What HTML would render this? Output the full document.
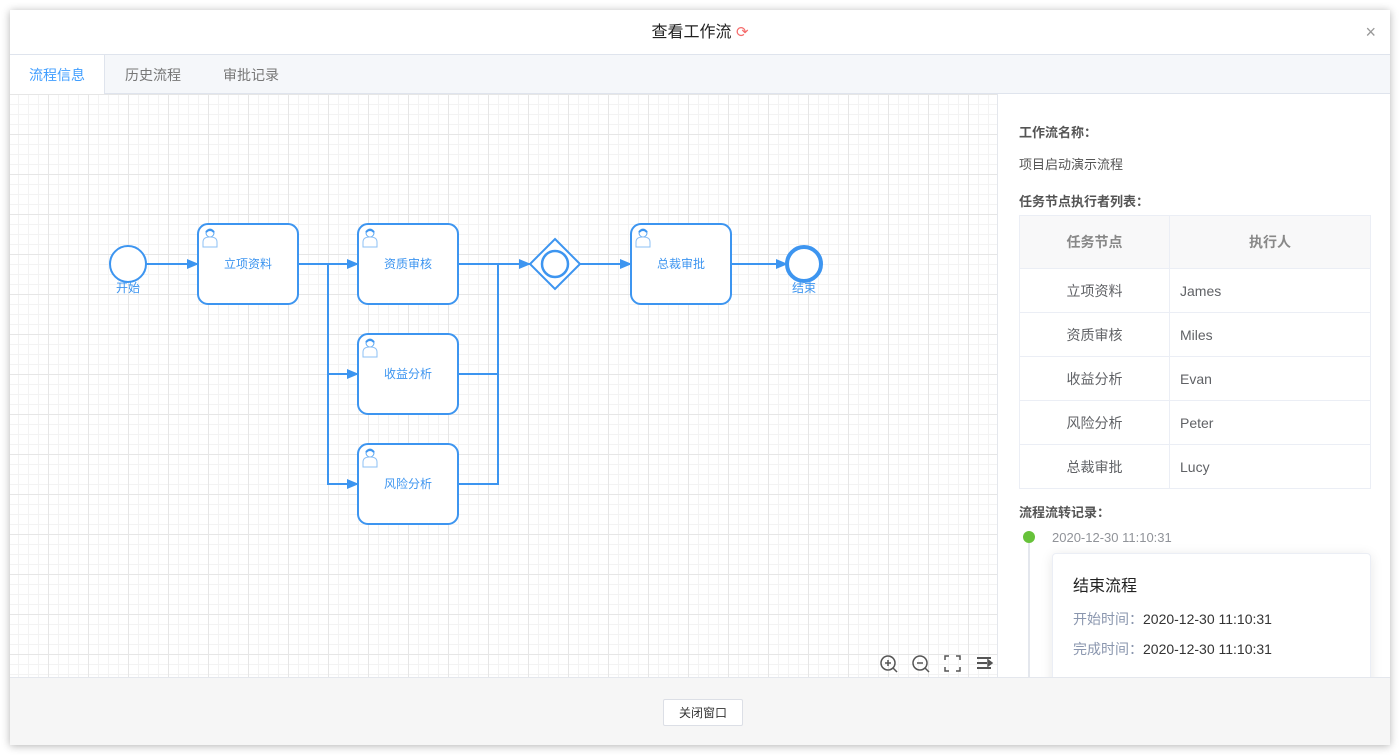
<!DOCTYPE html>
<html><head><meta charset="utf-8"><style>
*{margin:0;padding:0;box-sizing:border-box}
body{width:1400px;height:755px;background:#fff;font-family:"Liberation Sans","Noto Sans CJK SC",sans-serif;position:relative;overflow:hidden}
.modal{position:absolute;left:10px;top:10px;width:1380px;height:735px;background:#fff;box-shadow:0 1px 8px rgba(0,0,0,.3)}
.abs{position:absolute}
.title{left:0;top:0;width:1380px;height:44px;line-height:46px;text-align:center;font-size:16px;color:#222}
.tabs{left:0;top:44px;width:1380px;height:40px;background:#f5f7fa;border-top:1px solid #dfe4ed;border-bottom:1px solid #dfe4ed}
.tab{position:absolute;top:0;height:39px;line-height:40px;font-size:14px;color:#777}
.grid{left:0;top:84px;width:987px;height:583px;
background-color:#fff;
background-image:linear-gradient(#e6e6e6 1px,transparent 1px),linear-gradient(90deg,#e6e6e6 1px,transparent 1px),linear-gradient(#f3f3f3 1px,transparent 1px),linear-gradient(90deg,#f3f3f3 1px,transparent 1px);
background-size:40px 40px,40px 40px,10px 10px,10px 10px;
background-position:0 40px,38px 0,0 0,8px 0}
.side{left:987px;top:84px;width:393px;height:583px;border-left:1px solid #e4e7ed;background:#fff;overflow:hidden}
.h{font-size:13px;font-weight:bold;color:#555}
table{border-collapse:collapse;position:absolute;left:21px;top:121px;width:352px;font-size:14px;color:#606266}
td,th{border:1px solid #ebeef5;height:44px}
th{height:53px;background:#f8f8f9;color:#888;font-weight:bold;font-size:14px}
td:first-child{text-align:center;width:150px}
td:last-child{padding-left:10px}
.footer{left:0;top:667px;width:1380px;height:68px;background:#f6f6f6;border-top:1px solid #e4e7ed}
.btn{left:653px;top:21px;width:80px;height:27px;border:1px solid #dcdfe6;background:#fff;font-size:12px;color:#333;text-align:center;line-height:26px;border-radius:2px}
</style></head><body>
<div class="modal">
<div class="abs title">查看工作流 <span style="color:#f56c6c;font-size:15px">⟳</span></div>
<div class="abs" style="right:14px;top:12px;font-size:18px;color:#999">×</div>
<div class="abs tabs">
<div class="tab" style="left:0;width:95px;background:#fff;border-right:1px solid #dfe4ed;color:#409eff;text-align:center;height:40px">流程信息</div>
<div class="tab" style="left:115px">历史流程</div>
<div class="tab" style="left:213px">审批记录</div>
</div>
<div class="abs grid"></div>
<div class="abs side">
<div class="abs h" style="left:21px;top:28px">工作流名称：</div>
<div class="abs" style="left:21px;top:60px;font-size:13px;color:#555">项目启动演示流程</div>
<div class="abs h" style="left:21px;top:97px">任务节点执行者列表：</div>
<table>
<tr><th>任务节点</th><th>执行人</th></tr>
<tr><td>立项资料</td><td>James</td></tr>
<tr><td>资质审核</td><td>Miles</td></tr>
<tr><td>收益分析</td><td>Evan</td></tr>
<tr><td>风险分析</td><td>Peter</td></tr>
<tr><td>总裁审批</td><td>Lucy</td></tr>
</table>
<div class="abs h" style="left:21px;top:408px">流程流转记录：</div>
<div class="abs" style="left:25px;top:437px;width:12px;height:12px;border-radius:6px;background:#67c23a"></div>
<div class="abs" style="left:30px;top:449px;width:2px;height:140px;background:#e4e7ed"></div>
<div class="abs" style="left:54px;top:436px;font-size:13px;color:#909399">2020-12-30 11:10:31</div>
<div class="abs" style="left:54px;top:459px;width:319px;height:140px;border:1px solid #ebeef5;border-radius:4px;box-shadow:0 2px 12px rgba(0,0,0,.1);background:#fff">
<div class="abs" style="left:20px;top:18px;font-size:16px;color:#222">结束流程</div>
<div class="abs" style="left:20px;top:55px;font-size:14px;color:#8a96ae">开始时间：<span style="color:#333">2020-12-30 11:10:31</span></div>
<div class="abs" style="left:20px;top:85px;font-size:14px;color:#8a96ae">完成时间：<span style="color:#333">2020-12-30 11:10:31</span></div>
</div>
</div>
<div class="abs footer"><div class="abs btn">关闭窗口</div></div>
</div>
<svg class="abs" style="left:0;top:0" width="1400" height="755" viewBox="0 0 1400 755">
<defs>
<marker id="a" markerWidth="12" markerHeight="10" refX="11" refY="5" orient="auto" markerUnits="userSpaceOnUse"><path d="M0,0 L12,5 L0,10 z" fill="#3d95f0"/></marker>
<g id="u"><circle cx="9" cy="6" r="4" fill="none" stroke="#5aa6f2" stroke-width="1"/><path d="M2,20 v-5 q0,-5 7,-5 q7,0 7,5 v5 z" fill="none" stroke="#8dc0f5" stroke-width="1"/><path d="M5,5 q4,-4 8,0" stroke="#3d95f0" stroke-width="2" fill="none"/></g>
</defs>
<g stroke="#3d95f0" stroke-width="2" fill="none">
<line x1="146" y1="264" x2="198" y2="264" marker-end="url(#a)"/>
<line x1="298" y1="264" x2="358" y2="264" marker-end="url(#a)"/>
<polyline points="328,264 328,374 358,374" marker-end="url(#a)"/>
<polyline points="328,374 328,484 358,484" marker-end="url(#a)"/>
<line x1="458" y1="264" x2="530" y2="264" marker-end="url(#a)"/>
<polyline points="458,374 498,374"/>
<polyline points="458,484 498,484 498,264"/>
<line x1="580" y1="264" x2="631" y2="264" marker-end="url(#a)"/>
<line x1="731" y1="264" x2="787" y2="264" marker-end="url(#a)"/>
<circle cx="128" cy="264" r="18" fill="#fff"/>
<rect x="198" y="224" width="100" height="80" rx="10" fill="#fff"/>
<rect x="358" y="224" width="100" height="80" rx="10" fill="#fff"/>
<rect x="358" y="334" width="100" height="80" rx="10" fill="#fff"/>
<rect x="358" y="444" width="100" height="80" rx="10" fill="#fff"/>
<rect x="631" y="224" width="100" height="80" rx="10" fill="#fff"/>
<path d="M555,239 L580,264 L555,289 L530,264 z" fill="#fff"/>
<circle cx="555" cy="264" r="13" stroke-width="2.5"/>
<circle cx="804" cy="264" r="17" stroke-width="4" fill="#fff"/>
</g>
<use href="#u" x="201" y="227"/><use href="#u" x="361" y="227"/><use href="#u" x="361" y="337"/><use href="#u" x="361" y="447"/><use href="#u" x="634" y="227"/>
<g font-family="Liberation Sans,Noto Sans CJK SC,sans-serif" font-size="12" fill="#3d95f0" text-anchor="middle">
<text x="248" y="268">立项资料</text><text x="408" y="268">资质审核</text><text x="408" y="378">收益分析</text><text x="408" y="488">风险分析</text><text x="681" y="268">总裁审批</text>
<text x="128" y="292">开始</text><text x="804" y="292">结束</text>
</g>
<g stroke="#555" stroke-width="1.5" fill="none">
<circle cx="888" cy="663" r="7"/><line x1="893" y1="668" x2="897" y2="672"/><line x1="885" y1="663" x2="891" y2="663"/><line x1="888" y1="660" x2="888" y2="666"/>
<circle cx="920" cy="663" r="7"/><line x1="925" y1="668" x2="929" y2="672"/><line x1="917" y1="663" x2="923" y2="663"/>
<path d="M945,660 v-4 h4 M956,656 h4 v4 M960,667 v4 h-4 M949,671 h-4 v-4"/>
<path d="M977,658 h14 M977,663 h10 M977,668 h14" stroke-width="2"/><path d="M988,660 l4,3 l-4,3z" fill="#555"/>
</g>
</svg>
</body></html>
